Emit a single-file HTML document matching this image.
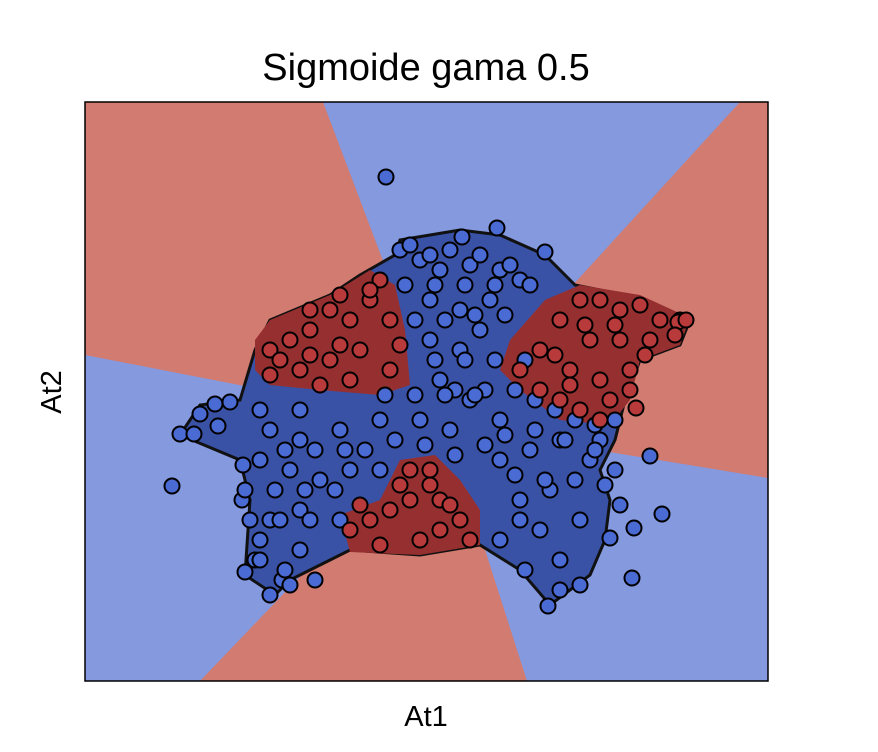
<!DOCTYPE html>
<html><head><meta charset="utf-8"><style>
body{margin:0;background:#fff;}
svg{display:block;font-family:"Liberation Sans",sans-serif;}
</style></head><body>
<svg id="chart" width="878" height="752">
<text x="426" y="80" font-size="38" text-anchor="middle">Sigmoide gama 0.5</text>
<text x="426" y="726" font-size="29" text-anchor="middle">At1</text>
<text transform="translate(61,392) rotate(-90)" font-size="29" text-anchor="middle">At2</text>
<defs><clipPath id="pc"><rect x="85" y="102" width="683" height="579"/></clipPath></defs>
<g clip-path="url(#pc)">
<rect x="85" y="102" width="683" height="579" fill="#8499de"/>
<polygon points="85,102 323,102 445,425 85,355" fill="#d27b70"/>
<polygon points="740,102 768,102 768,478 445,425" fill="#d27b70"/>
<polygon points="445,425 527,681 200,681" fill="#d27b70"/>
</g>
<g id="density">
<polygon points="400,240 460,230 500,235 545,255 575,285 600,290 640,300 690,320 680,345 640,360 625,400 615,440 600,470 610,500 605,540 590,575 550,605 520,570 480,545 420,555 350,550 320,565 290,580 275,595 245,575 250,500 240,460 180,435 200,405 240,400 255,350 270,320 330,295 360,275 395,255" fill="#3a52a6" stroke="#111" stroke-width="3"/>
<polygon points="255,340 270,320 330,295 370,270 395,285 405,330 410,385 380,395 320,390 270,385 255,370" fill="#962f2f"/>
<polygon points="500,370 510,340 545,300 580,285 640,295 690,318 680,345 640,360 630,400 610,425 560,420 520,390" fill="#962f2f"/>
<polygon points="340,515 380,500 400,460 435,455 460,480 480,510 480,545 420,555 350,552" fill="#962f2f"/>
</g>
<g id="points"></g>
<rect x="85" y="102" width="683" height="579" fill="none" stroke="#000" stroke-width="1.5"/>
</svg>
<script>
const blueX=[301,87,95,109,115,130,145,133,547,549,577,565,463,460,412,377,315,160,185,197,495,475,440,525,535,158,157,
335,355,385,415,435,345,375,405,345,375,395,355,385,415,365,335,295,255,215,185,175,205,235,265,185,215,175,215,415,445,475,505,435,465,495,455,475,415,435,515,530,295,215,175,
325,345,365,395,425,445,320,350,380,410,330,360,390,420,350,380,410,440,370,400,430,300,330,360,390,420,450,480,510,200,230,260,160,190,220,250,165,195,225,255,280,310,340,370,400,430,460,490,520,170,200,230,450,470,490,510,530,175,205];
const blueY=[504,195,247,247,267,277,279,255,103,153,167,225,75,429,453,444,431,109,86,101,96,91,111,143,176,216,181,
421,411,416,411,401,381,371,381,341,331,351,301,281,261,251,261,261,251,241,251,221,211,201,211,161,171,141,131,221,231,241,221,181,191,161,151,121,141,161,241,211,211,271,271,
436,426,431,426,416,396,396,396,396,396,361,361,366,366,321,321,321,321,291,291,291,286,286,286,286,246,251,241,231,231,231,231,191,191,191,191,161,161,161,161,231,241,236,226,236,206,201,201,196,121,111,101,281,271,261,256,261,121,96];
const redX=[185,205,225,245,265,285,295,305,275,245,215,185,235,265,305,315,
435,455,475,495,515,535,555,575,595,565,535,505,485,455,515,525,495,475,545,551,593,601,
265,285,305,325,345,325,355,375,385,335,295,355,
195,225,255,285,255,225,470,500,530,560,590,545,515,485,275,315,345,365];
const redY=[331,341,351,371,361,381,401,361,331,321,311,306,296,301,311,336,
311,331,361,381,381,371,376,361,361,341,341,341,311,291,301,281,271,281,311,273,359,361,
151,161,171,211,211,181,181,161,141,141,136,151,
321,326,336,391,386,371,326,356,356,326,346,291,261,296,176,196,196,176];
const xScale=v=>85+v, yScale=v=>681-v;
const g=document.getElementById('points');
const NS='http://www.w3.org/2000/svg';
function draw(xs,ys,fill,name){
  for(let i=0;i<xs.length;i++){
    const c=document.createElementNS(NS,'circle');
    c.setAttribute('cx',xScale(xs[i]));c.setAttribute('cy',yScale(ys[i]));
    c.setAttribute('r',7.5);c.setAttribute('fill',fill);
    c.setAttribute('stroke','#000');c.setAttribute('stroke-width',2);
    
    
    g.appendChild(c);
  }
}
draw(blueX,blueY,'#4a6bd3','blue-point');
draw(redX,redY,'#b83a3a','red-point');
</script>
</body></html>
